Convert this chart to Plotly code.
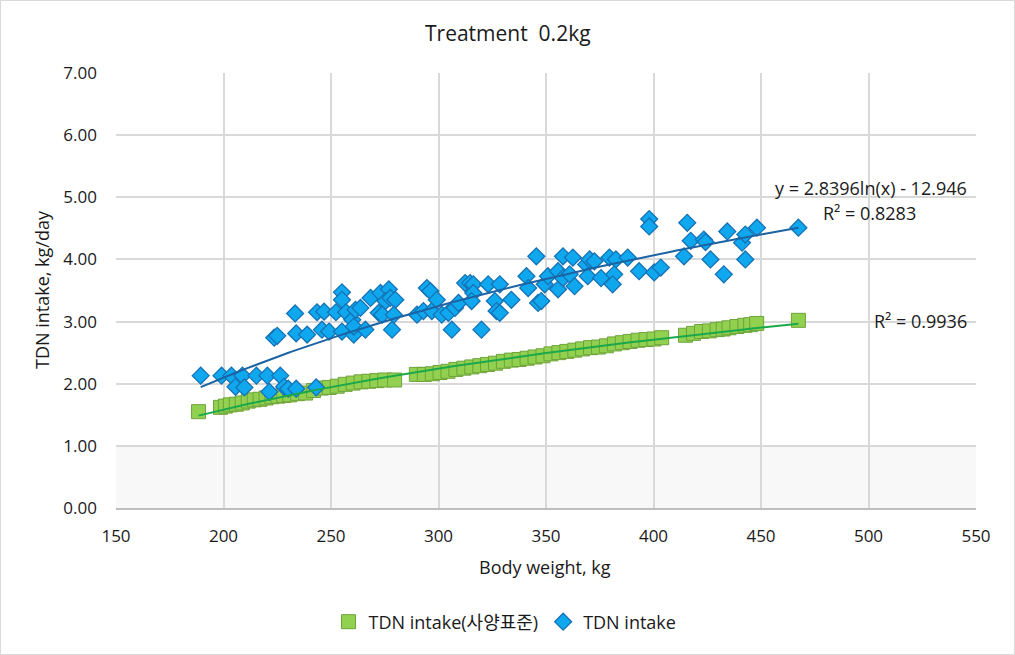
import numpy as np
import plotly.graph_objects as go

# ---------------- data ----------------
# TDN intake (사양표준) – green squares
bw_std = [188.4, 198.6, 200.9, 203.2, 206.0, 208.7, 211.5, 214.3, 217.0, 219.8, 222.5,
          225.3, 228.0, 230.8, 234.5, 238.2, 241.9, 245.6, 249.2, 252.9, 256.6, 260.3,
          264.0, 267.6, 271.3, 275.0, 279.6, 289.7, 293.4, 297.1, 300.7, 304.4, 308.1,
          311.8, 315.5, 319.2, 322.8, 326.5, 330.2, 333.9, 337.5, 341.2, 344.9, 348.6,
          352.3, 356.0, 359.7, 363.4, 367.0, 370.7, 374.4, 378.1, 381.8, 385.5, 389.1,
          392.8, 396.5, 400.2, 403.8, 414.9, 418.6, 422.3, 426.0, 429.6, 432.4, 435.1,
          438.8, 442.5, 445.2, 448.0, 467.4]
tdn_std = [1.55, 1.62, 1.64, 1.66, 1.67, 1.69, 1.72, 1.74, 1.75, 1.77, 1.79,
           1.80, 1.81, 1.82, 1.84, 1.85, 1.89, 1.93, 1.94, 1.96, 1.99, 2.01,
           2.03, 2.04, 2.05, 2.06, 2.06, 2.15, 2.15, 2.16, 2.18, 2.20, 2.23,
           2.25, 2.27, 2.29, 2.31, 2.33, 2.36, 2.38, 2.39, 2.41, 2.43, 2.45,
           2.48, 2.50, 2.52, 2.54, 2.56, 2.58, 2.59, 2.61, 2.64, 2.66, 2.68,
           2.70, 2.71, 2.72, 2.74, 2.78, 2.81, 2.84, 2.85, 2.87, 2.88, 2.90,
           2.92, 2.94, 2.95, 2.97, 3.02]

# TDN intake – blue diamonds
bw_obs = [189.4, 199.1, 203.7, 205.6, 208.8, 209.7, 215.3, 220.4, 221.3, 226.4, 228.2,
          230.1, 233.8, 243.1, 223.6, 225.0, 233.3, 233.8, 238.9, 243.5, 246.8, 245.8,
          249.1, 252.3, 255.1, 255.1, 257.0, 255.1, 259.9, 260.6, 261.4, 263.7, 260.6,
          266.0, 268.4, 273.0, 276.9, 275.3, 277.6, 279.9, 272.2, 273.8, 279.2, 278.4,
          290.0, 293.0, 294.6, 296.2, 296.9, 299.2, 301.5, 304.6, 306.2, 307.7, 309.3,
          312.4, 314.7, 316.2, 316.2, 315.4, 320.0, 323.1, 328.5, 326.2, 327.0, 328.5,
          333.9, 340.9, 341.7, 345.5, 346.3, 347.8, 349.4, 350.9, 355.6, 355.6, 357.9,
          362.5, 357.9, 361.0, 363.3, 368.7, 370.3, 372.5, 369.4, 375.6, 379.5, 382.5,
          381.7, 381.0, 388.0, 393.3, 398.0, 398.0, 400.3, 403.4, 415.7, 414.2, 417.3,
          423.4, 424.2, 426.5, 432.7, 434.3, 441.2, 442.7, 442.7, 448.1, 467.4]
tdn_obs = [2.13, 2.13, 2.13, 1.95, 2.13, 1.94, 2.13, 2.13, 1.87, 2.13, 1.95,
           1.92, 1.92, 1.94, 2.74, 2.77, 3.13, 2.81, 2.79, 3.15, 3.16, 2.87,
           2.84, 3.15, 3.47, 3.35, 3.15, 2.84, 3.03, 2.79, 3.19, 3.22, 2.92,
           2.87, 3.38, 3.46, 3.52, 3.33, 3.38, 3.35, 3.14, 3.11, 3.11, 2.87,
           3.11, 3.17, 3.54, 3.49, 3.17, 3.35, 3.11, 3.14, 2.87, 3.22, 3.30,
           3.62, 3.62, 3.60, 3.46, 3.33, 2.87, 3.60, 3.60, 3.33, 3.17, 3.14,
           3.35, 3.73, 3.54, 4.05, 3.30, 3.33, 3.60, 3.73, 3.81, 3.52, 4.05,
           4.03, 3.70, 3.76, 3.57, 3.92, 4.00, 3.97, 3.73, 3.70, 4.03, 4.00,
           3.76, 3.60, 4.03, 3.81, 4.65, 4.53, 3.79, 3.87, 4.59, 4.05, 4.30,
           4.32, 4.28, 4.00, 3.76, 4.45, 4.27, 4.40, 4.00, 4.51, 4.51]

# trendline of observed intake (from the chart's equation)
obs_a, obs_b = 2.8396, -12.946
eq_text = "y = 2.8396ln(x) - 12.946"
r2_obs_text = "R² = 0.8283"
r2_std_text = "R² = 0.9936"

x_ticks = [150, 200, 250, 300, 350, 400, 450, 500, 550]
y_ticks = [0, 1, 2, 3, 4, 5, 6, 7]

# ---------------- trendlines ----------------
xs_obs = np.linspace(min(bw_obs), max(bw_obs), 200)
ys_obs = obs_a * np.log(xs_obs) + obs_b
ca, cb = np.polyfit(np.log(bw_std), tdn_std, 1)
xs_std = np.linspace(min(bw_std), max(bw_std), 200)
ys_std = ca * np.log(xs_std) + cb

FONT = "Open Sans, Noto Sans CJK KR, sans-serif"
TXT = "#1a1a1a"

fig = go.Figure()
fig.add_trace(go.Scatter(
    x=bw_std, y=tdn_std, mode="markers", name="TDN intake(사양표준)",
    marker=dict(symbol="square", size=14, color="#92D050",
                line=dict(color="#6EA33A", width=1))))
fig.add_trace(go.Scatter(
    x=bw_obs, y=tdn_obs, mode="markers", name="TDN intake",
    marker=dict(symbol="diamond", size=13, color="#0FA8EE",
                line=dict(color="#1672B5", width=1.3))))
fig.add_trace(go.Scatter(x=xs_std, y=ys_std, mode="lines", showlegend=False,
                         line=dict(color="#1BA84A", width=2), hoverinfo="skip"))
fig.add_trace(go.Scatter(x=xs_obs, y=ys_obs, mode="lines", showlegend=False,
                         line=dict(color="#1B63A3", width=2), hoverinfo="skip"))

W, H = 1015, 655
L, R, T, B = 116, 39, 73, 147
pw, ph = W - L - R, H - T - B

def px(xp):
    return (xp - L) / pw

def py(yp):
    return (H - B - yp) / ph

fig.update_layout(
    width=W, height=H,
    margin=dict(l=L, r=R, t=T, b=B, autoexpand=False),
    paper_bgcolor="white", plot_bgcolor="white",
    font=dict(family=FONT, size=17, color=TXT),
    showlegend=True,
    legend=dict(orientation="h", x=px(505), xanchor="center", y=py(622), yanchor="middle",
                font=dict(size=18, color=TXT), bgcolor="rgba(0,0,0,0)",
                itemwidth=30, tracegroupgap=0),
    xaxis=dict(range=[150, 550], tickvals=x_ticks, ticktext=[str(v) for v in x_ticks],
               showgrid=True, gridcolor="#D9D9D9", gridwidth=1.5,
               zeroline=False, showline=True, linecolor="#BFBFBF", linewidth=1.5,
               ticks="", ticklabelstandoff=12, tickfont=dict(size=17, color=TXT)),
    yaxis=dict(range=[0, 7], tickvals=y_ticks, ticktext=[f"{v:.2f}" for v in y_ticks],
               showgrid=True, gridcolor="#D9D9D9", gridwidth=1.5,
               zeroline=False, showline=False,
               ticks="", ticklabelstandoff=18, tickfont=dict(size=17, color=TXT)),
    shapes=[
        dict(type="rect", xref="x", yref="y", x0=150, x1=550, y0=0, y1=1,
             fillcolor="#F8F8F8", line=dict(width=0), layer="below"),
        dict(type="rect", xref="paper", yref="paper",
             x0=px(0.5), x1=px(W - 0.5), y0=py(H - 0.5), y1=py(0.5),
             line=dict(color="#D9D9D9", width=1), fillcolor="rgba(0,0,0,0)"),
    ],
    annotations=[
        dict(text="Treatment  0.2kg", xref="paper", yref="paper", x=px(508), y=py(33),
             xanchor="center", yanchor="middle", showarrow=False,
             font=dict(size=21, color=TXT)),
        dict(text="Body weight, kg", xref="paper", yref="paper", x=px(545), y=py(567),
             xanchor="center", yanchor="middle", showarrow=False,
             font=dict(size=18, color=TXT)),
        dict(text="TDN intake, kg/day", xref="paper", yref="paper", x=px(42), y=py(290),
             xanchor="center", yanchor="middle", showarrow=False, textangle=-90,
             font=dict(size=18, color=TXT)),
        dict(text=eq_text, xref="paper", yref="paper", x=px(969), y=py(188),
             xanchor="right", yanchor="middle", showarrow=False,
             font=dict(size=18, color=TXT)),
        dict(text=r2_obs_text, xref="paper", yref="paper", x=px(918), y=py(213),
             xanchor="right", yanchor="middle", showarrow=False,
             font=dict(size=18, color=TXT)),
        dict(text=r2_std_text, xref="paper", yref="paper", x=px(969), y=py(321),
             xanchor="right", yanchor="middle", showarrow=False,
             font=dict(size=18, color=TXT)),
    ],
)

fig.write_html("out.html", config={"displayModeBar": False},
               post_script="document.body.style.margin='0';")
